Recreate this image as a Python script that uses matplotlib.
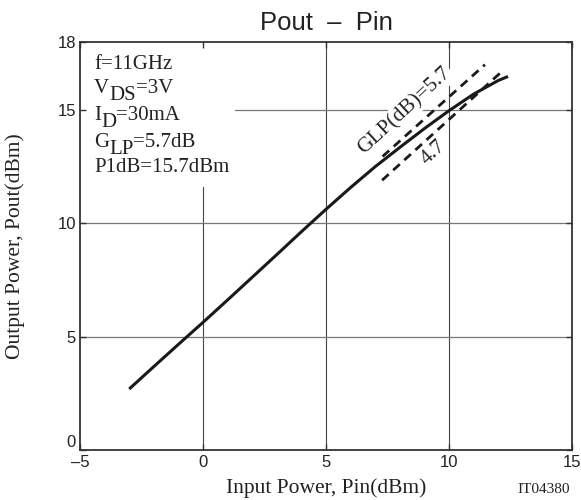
import matplotlib
matplotlib.use("Agg")
import matplotlib.pyplot as plt
from matplotlib.patches import Rectangle

# ---- data ----
pin = [-3.0, -2.0, -1.0, 0.0, 1.0, 2.0, 3.0, 4.0, 5.0, 6.0, 7.0, 8.0, 9.0, 10.0, 11.0, 12.0, 12.4]
pout = [2.69, 3.68, 4.66, 5.63, 6.62, 7.62, 8.62, 9.63, 10.62, 11.58, 12.5, 13.35, 14.18, 14.97, 15.7, 16.3, 16.48]

glp57_x = [7.3, 11.46]
glp57_y = [12.95, 17.0]
glp47_x = [7.28, 12.2]
glp47_y = [11.9, 16.75]

xticks = [-5, 0, 5, 10, 15]
yticks = [0, 5, 10, 15, 18]
xgrid = [0, 5, 10]
ygrid = [5, 10, 15]

title = "Pout  \u2013  Pin"
xlabel = "Input Power, Pin(dBm)"
ylabel = "Output Power, Pout(dBm)"

SERIF = "Liberation Serif"
SANS = "Liberation Sans"

def fmt(t):
    return f"\u2013{abs(t)}" if t < 0 else f"{t}"

fig = plt.figure(figsize=(5.81, 5.00), dpi=100)
ax = fig.add_axes([80/581, 50/500, 492/581, 408/500])
ax.set_xlim(-5, 15)
ax.set_ylim(0, 18)
ax.set_xticks(xticks)
ax.set_yticks(yticks)
ax.set_xticklabels([fmt(t) for t in xticks], fontfamily=SANS, fontsize=12)
ylabs = ax.set_yticklabels([fmt(t) for t in yticks], fontfamily=SANS, fontsize=12)
ylabs[0].set_va("bottom")
ax.tick_params(direction="in", length=4, width=1.0, color="#333333",
               top=True, right=True, labelcolor="#222222")
ax.tick_params(axis="x", pad=3.5)
ax.tick_params(axis="y", pad=3)
for s in ax.spines.values():
    s.set_linewidth(1.3)
    s.set_color("#333333")

# grid lines (manual, so that the text box can cover them)
for gx in xgrid:
    ax.axvline(gx, color="#444444", lw=0.8, zorder=0.5)
for gy in ygrid:
    ax.axhline(gy, color="#777777", lw=0.9, zorder=0.5)

# white box behind the parameter text
ax.add_patch(Rectangle((-5, 11.6), 6.3, 6.4, facecolor="white", edgecolor="none", zorder=0.8))

# main curve
ax.plot(pin, pout, color="#1a1a1a", lw=2.2, solid_capstyle="butt", zorder=3)
# gain lines
ax.plot(glp57_x, glp57_y, color="#1a1a1a", lw=2.0, dashes=(3.2, 2.2), zorder=2.5)
ax.plot(glp47_x, glp47_y, color="#1a1a1a", lw=2.0, dashes=(3.2, 2.2), zorder=2.5)

ang = 42.7
ax.text(8.2, 14.95, "GLP(dB)=5.7", fontfamily=SERIF, fontsize=15.5, rotation=ang,
        rotation_mode="anchor", ha="center", va="center", color="#222222", zorder=1,
        bbox=dict(facecolor="white", edgecolor="none", pad=1.5))
ax.text(9.35, 13.1, "4.7", fontfamily=SERIF, fontsize=15.5, rotation=ang,
        rotation_mode="anchor", ha="center", va="center", color="#222222", zorder=1)

# parameter text lines with subscripts
def seg_line(parts, y_px):
    x0 = (94 - 80) / 492
    y0 = (450 - y_px) / 408
    prev = ax.text(x0, y0, parts[0][0], transform=ax.transAxes, fontfamily=SERIF,
                   fontsize=15, va="baseline", ha="left", color="#222222", zorder=4)
    prev_dy = parts[0][1]
    for txt, dy in parts[1:]:
        prev = ax.annotate(txt, xy=(1, 0), xycoords=prev, xytext=(0, dy - prev_dy),
                           textcoords="offset points", fontfamily=SERIF, fontsize=15,
                           va="bottom", ha="left", color="#222222", zorder=4,
                           annotation_clip=False)
        prev_dy = dy

sub = -5.0
seg_line([("f=11GHz", 0)], 69)
seg_line([("V", 0), ("DS", sub), ("=3V", 0)], 93)
seg_line([("I", 0), ("D", sub), ("=30mA", 0)], 120)
seg_line([("G", 0), ("LP", sub), ("=5.7dB", 0)], 147)
seg_line([("P1dB=15.7dBm", 0)], 172)

# titles and labels
fig.text(326/581, (500 - 30)/500, title, fontfamily=SANS, fontsize=18.5,
         ha="center", va="baseline", color="#222222")
fig.text(326/581, (500 - 493)/500, xlabel, fontfamily=SERIF, fontsize=15.5,
         ha="center", va="baseline", color="#222222")
fig.text(15/581, (500 - 246)/500, ylabel, fontfamily=SERIF, fontsize=15.5,
         rotation=90, ha="center", va="center", color="#222222")
fig.text(570/581, (500 - 493)/500, "IT04380", fontfamily=SERIF, fontsize=11,
         ha="right", va="baseline", color="#222222")

fig.savefig("out.png", dpi=100, facecolor="white")
